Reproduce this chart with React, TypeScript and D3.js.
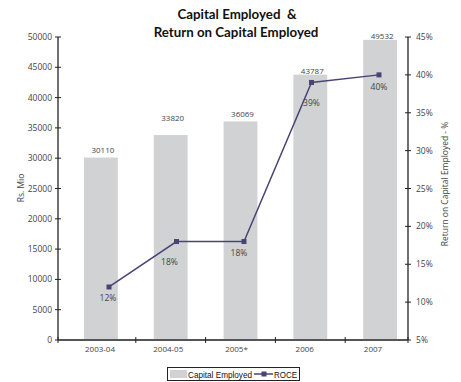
import React from "react";
import * as d3 from "d3";

const categories = ["2003-04", "2004-05", "2005*", "2006", "2007"];
const capitalEmployed = [30110, 33820, 36069, 43787, 49532];
const roce = [12, 18, 18, 39, 40];
const leftTicks = [0, 5000, 10000, 15000, 20000, 25000, 30000, 35000, 40000, 45000, 50000];
const rightTicks = [5, 10, 15, 20, 25, 30, 35, 40, 45];
const barLabelDy = [-5, -14, -4, -1, -1];
const roceLabelDy = [11.5, 20.5, 11.5, 21, 12];
const roceLabelDx = [-1, -7, -5, 0, 0];

const W = 461;
const H = 382;
const X0 = 58;
const X1 = 408;
const Y0 = 340;
const Y1 = 37;

const BAR = "#d1d2d4";
const LINE = "#4a4373";
const TXT = "#444";
const FONT = "'Open Sans', sans-serif";
const LFONT = "'Liberation Sans', Arial, sans-serif";

export default function App() {
  const xBand = d3.scaleBand<string>().domain(categories).range([66, 415]).paddingInner(0.515).paddingOuter(0.2575);
  const xLine = d3.scalePoint<string>().domain(categories).range([109, 379]);
  const xLabel = d3.scalePoint<string>().domain(categories).range([100, 373]);
  const yL = d3.scaleLinear().domain([0, 50000]).range([Y0, Y1]);
  const yR = d3.scaleLinear().domain([5, 45]).range([Y0, Y1]);

  const step = xBand.step();
  const xTicks = [X0, ...categories.slice(1).map((c) => (xBand(c) as number) - (step * xBand.paddingInner()) / 2), X1];
  const linePath = d3
    .line<number>()
    .x((_, i) => xLine(categories[i]) as number)
    .y((d) => yR(d))(roce);

  return (
    <svg width={W} height={H} style={{ position: "absolute", left: 0, top: 0, background: "#fff" }}>
      <text x={237} y={19} textAnchor="middle" fontFamily="Lato, sans-serif" fontWeight={700} fontSize={13.3} fill="#111" style={{ whiteSpace: "pre" }}>
        {"Capital Employed  &"}
      </text>
      <text x={236} y={37} textAnchor="middle" fontFamily="Lato, sans-serif" fontWeight={700} fontSize={13.3} fill="#111">
        Return on Capital Employed
      </text>

      {/* bars */}
      {capitalEmployed.map((v, i) => (
        <rect key={i} x={xBand(categories[i])} y={yL(v)} width={xBand.bandwidth()} height={Y0 - yL(v)} fill={BAR} />
      ))}
      {capitalEmployed.map((v, i) => (
        <text key={i} x={(xBand(categories[i]) as number) + xBand.bandwidth() / 2 + 2} y={yL(v) + barLabelDy[i]} textAnchor="middle" fontFamily={FONT} fontSize={8} fill={TXT}>
          {v}
        </text>
      ))}

      {/* left axis */}
      <line x1={X0} x2={X0} y1={Y1} y2={Y0} stroke="#222" strokeWidth={1.3} />
      {leftTicks.map((t) => (
        <g key={t}>
          <line x1={X0 - 3} x2={X0 + 3} y1={yL(t)} y2={yL(t)} stroke="#222" strokeWidth={1} />
          <text x={X0 - 6} y={yL(t) + 3} textAnchor="end" fontFamily={FONT} fontSize={8.5} fill={TXT}>
            {t}
          </text>
        </g>
      ))}
      {/* right axis */}
      <line x1={X1} x2={X1} y1={Y1} y2={Y0} stroke="#222" strokeWidth={1.3} />
      {rightTicks.map((t) => (
        <g key={t}>
          <line x1={X1 - 3} x2={X1 + 3} y1={yR(t)} y2={yR(t)} stroke="#222" strokeWidth={1} />
          <text x={X1 + 8} y={yR(t) + 3} textAnchor="start" fontFamily={FONT} fontSize={8.5} fill={TXT}>
            {t}%
          </text>
        </g>
      ))}
      {/* x axis */}
      <line x1={X0} x2={X1} y1={Y0} y2={Y0} stroke="#555" strokeWidth={1.8} />
      {xTicks.map((x, i) => (
        <line key={i} x1={x} x2={x} y1={Y0 - 3} y2={Y0 + 3} stroke="#222" strokeWidth={1} />
      ))}
      {categories.map((c) => (
        <text key={c} x={xLabel(c)} y={352} textAnchor="middle" fontFamily={FONT} fontSize={8} fill={TXT}>
          {c}
        </text>
      ))}

      {/* axis titles */}
      <text transform="translate(24,188) rotate(-90)" textAnchor="middle" fontFamily={FONT} fontSize={8.5} fill={TXT}>
        Rs. Mio
      </text>
      <text transform="translate(448,184) rotate(-90)" textAnchor="middle" fontFamily={FONT} fontSize={8.5} fill={TXT}>
        Return on Capital Employed - %
      </text>

      {/* ROCE line */}
      <path d={linePath ?? ""} fill="none" stroke={LINE} strokeWidth={1.5} />
      {roce.map((v, i) => (
        <rect key={i} x={(xLine(categories[i]) as number) - 2.5} y={yR(v) - 2.5} width={5} height={5} fill={LINE} />
      ))}
      {roce.map((v, i) => (
        <text key={i} x={(xLine(categories[i]) as number) + roceLabelDx[i]} y={yR(v) + roceLabelDy[i] + 3} textAnchor="middle" fontFamily={FONT} fontSize={8.5} fill={TXT}>
          {v}%
        </text>
      ))}

      {/* legend */}
      <rect x={167.5} y={367.5} width={132} height={13} fill="#fff" stroke="#222" strokeWidth={1} />
      <rect x={170} y={370} width={17} height={8} fill={BAR} />
      <text x={188} y={377.5} fontFamily={LFONT} fontSize={8.3} fill="#111" textLength={64} lengthAdjust="spacingAndGlyphs">
        Capital Employed
      </text>
      <line x1={254} x2={273} y1={374} y2={374} stroke={LINE} strokeWidth={1.5} />
      <rect x={261.5} y={371.5} width={5} height={5} fill={LINE} />
      <text x={274} y={377.5} fontFamily={LFONT} fontSize={8.3} fill="#111" textLength={23} lengthAdjust="spacingAndGlyphs">
        ROCE
      </text>
    </svg>
  );
}
